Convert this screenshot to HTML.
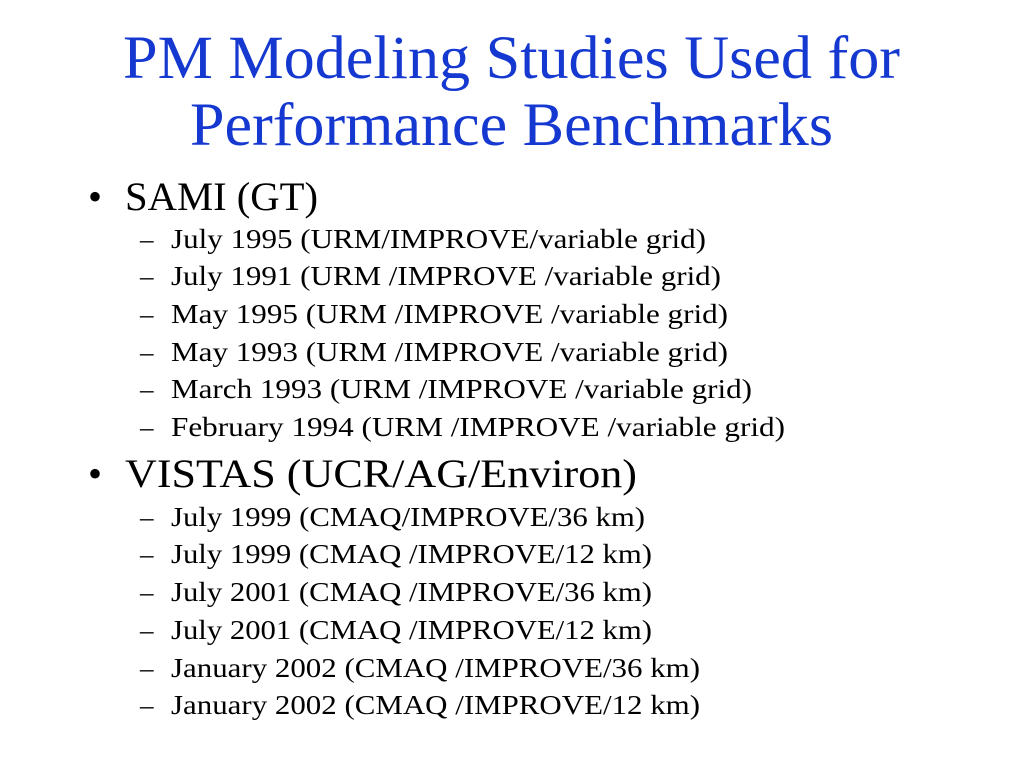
<!DOCTYPE html>
<html><head><meta charset="utf-8"><style>
html,body{margin:0;padding:0;background:#fff;}
svg{display:block;}
text{font-family:"Liberation Serif",serif;fill:#000;}
.t{fill:#1438d0;font-size:61px;}
.b{font-size:40px;}
.s{font-size:27px;}
</style></head><body>
<svg width="1024" height="768" viewBox="0 0 1024 768">
<text class="t" x="123" y="78" textLength="777" lengthAdjust="spacingAndGlyphs">PM Modeling Studies Used for</text>
<text class="t" x="190" y="145" textLength="643" lengthAdjust="spacingAndGlyphs">Performance Benchmarks</text>

<text class="b" x="88" y="210">•</text>
<text class="b" x="125" y="210" textLength="193" lengthAdjust="spacingAndGlyphs">SAMI (GT)</text>
<text class="s" x="140" y="248">–</text><text class="s" x="171" y="248" textLength="535" lengthAdjust="spacingAndGlyphs">July 1995 (URM/IMPROVE/variable grid)</text>
<text class="s" x="140" y="285">–</text><text class="s" x="171" y="285" textLength="550" lengthAdjust="spacingAndGlyphs">July 1991 (URM /IMPROVE /variable grid)</text>
<text class="s" x="140" y="323">–</text><text class="s" x="171" y="323" textLength="557" lengthAdjust="spacingAndGlyphs">May 1995 (URM /IMPROVE /variable grid)</text>
<text class="s" x="140" y="361">–</text><text class="s" x="171" y="361" textLength="557" lengthAdjust="spacingAndGlyphs">May 1993 (URM /IMPROVE /variable grid)</text>
<text class="s" x="140" y="398">–</text><text class="s" x="171" y="398" textLength="581" lengthAdjust="spacingAndGlyphs">March 1993 (URM /IMPROVE /variable grid)</text>
<text class="s" x="140" y="436">–</text><text class="s" x="171" y="436" textLength="614" lengthAdjust="spacingAndGlyphs">February 1994 (URM /IMPROVE /variable grid)</text>

<text class="b" x="88" y="487">•</text>
<text class="b" x="125" y="487" textLength="512" lengthAdjust="spacingAndGlyphs">VISTAS (UCR/AG/Environ)</text>
<text class="s" x="140" y="526">–</text><text class="s" x="171" y="526" textLength="474" lengthAdjust="spacingAndGlyphs">July 1999 (CMAQ/IMPROVE/36 km)</text>
<text class="s" x="140" y="563">–</text><text class="s" x="171" y="563" textLength="481" lengthAdjust="spacingAndGlyphs">July 1999 (CMAQ /IMPROVE/12 km)</text>
<text class="s" x="140" y="601">–</text><text class="s" x="171" y="601" textLength="481" lengthAdjust="spacingAndGlyphs">July 2001 (CMAQ /IMPROVE/36 km)</text>
<text class="s" x="140" y="639">–</text><text class="s" x="171" y="639" textLength="481" lengthAdjust="spacingAndGlyphs">July 2001 (CMAQ /IMPROVE/12 km)</text>
<text class="s" x="140" y="677">–</text><text class="s" x="171" y="677" textLength="529" lengthAdjust="spacingAndGlyphs">January 2002 (CMAQ /IMPROVE/36 km)</text>
<text class="s" x="140" y="714">–</text><text class="s" x="171" y="714" textLength="529" lengthAdjust="spacingAndGlyphs">January 2002 (CMAQ /IMPROVE/12 km)</text>
</svg>
</body></html>
